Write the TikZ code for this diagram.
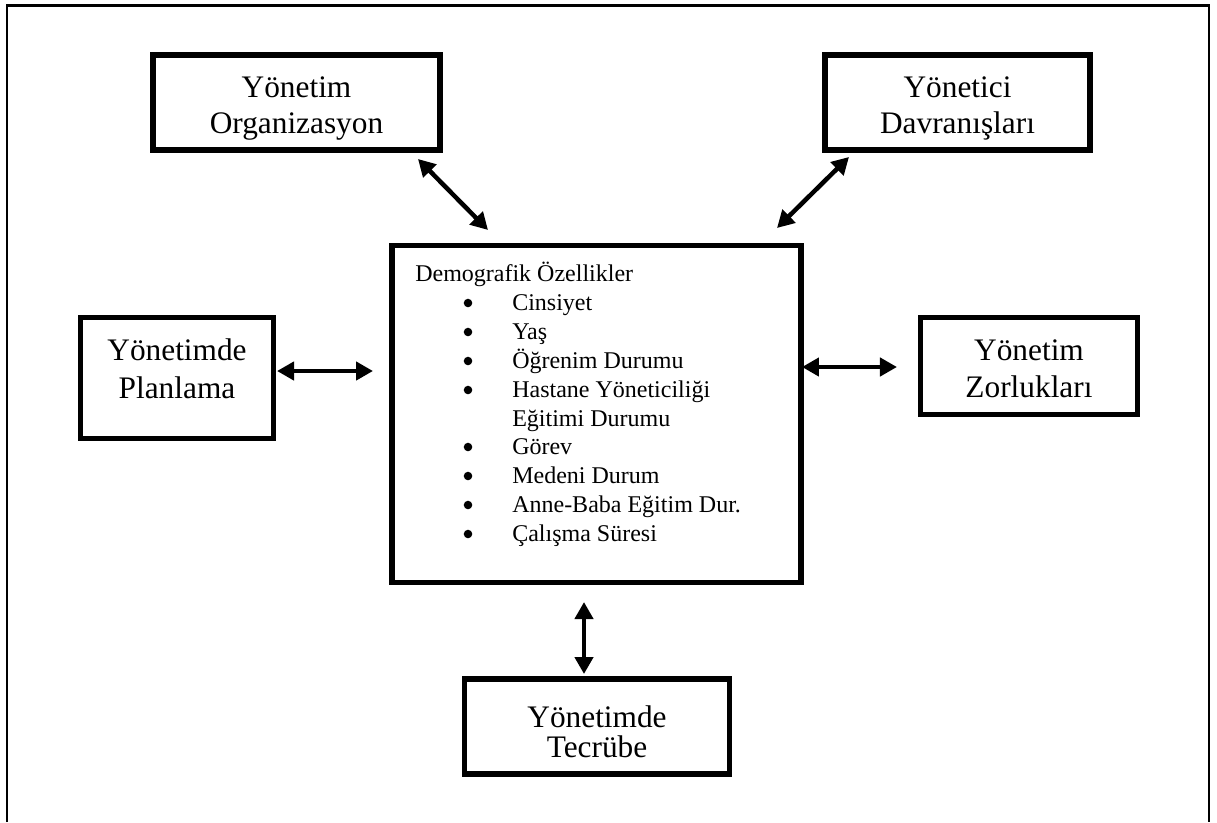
\documentclass[tikz,border=0pt]{standalone}
\usepackage{fontspec}
\setmainfont{Liberation Serif}
\usetikzlibrary{arrows.meta}
\begin{document}
\begin{tikzpicture}[x=0.75pt,y=-0.75pt,
  box/.style={draw,line width=4.125pt,inner sep=0pt,fill=white},
  lbl/.style={anchor=base,inner sep=0pt,font=\fontsize{23.5}{27}\selectfont},
  itm/.style={anchor=base west,inner sep=0pt,font=\fontsize{18}{21.6}\selectfont},
  bul/.style={circle,fill=black,inner sep=0pt,minimum size=6.4pt},
  arr/.style={line width=3.4pt,{Triangle[length=12.75pt,width=13.5pt]}-{Triangle[length=12.75pt,width=13.5pt]}}]
\useasboundingbox (0,0) rectangle (1217,822);
\fill[white] (0,0) rectangle (1217,822);
% outer frame (open at bottom)
\coordinate (f1) at (7,822);
\coordinate (f2) at (7,5.5);
\coordinate (f3) at (1209,5.5);
\coordinate (f4) at (1209,822);
\draw[line width=1.8pt] (f1) -- (f2) -- (f3) -- (f4);
% boxes
\node[box,minimum width=215.6pt,minimum height=71.6pt] (org) at (296.5,102.5) {};
\node[box,minimum width=199.1pt,minimum height=71.6pt] (dav) at (957.5,102.5) {};
\node[box,minimum width=144.4pt,minimum height=90.4pt] (plan) at (177,378) {};
\node[box,minimum width=162.4pt,minimum height=72.4pt] (zor) at (1029,366) {};
\node[box,minimum width=307.1pt,minimum height=252.4pt] (demo) at (596.5,414) {};
\node[box,minimum width=198.4pt,minimum height=71.6pt] (tec) at (597,726.5) {};
% box labels
\node[lbl] (org1) at (296.5,97) {Yönetim};
\node[lbl] (org2) at (296.5,133) {Organizasyon};
\node[lbl] (dav1) at (957.5,97) {Yönetici};
\node[lbl] (dav2) at (957.5,133) {Davranışları};
\node[lbl] (plan1) at (177,360) {Yönetimde};
\node[lbl] (plan2) at (177,398) {Planlama};
\node[lbl] (zor1) at (1029,360) {Yönetim};
\node[lbl] (zor2) at (1029,397) {Zorlukları};
\node[lbl] (tec1) at (597,727) {Yönetimde};
\node[lbl] (tec2) at (597,757) {Tecrübe};
% central list
\node[itm] (dtitle) at (415,281) {Demografik Özellikler};
\node[bul] (b1) at (468,303) {};
\node[itm] (i1) at (512,310) {Cinsiyet};
\node[bul] (b2) at (468,332) {};
\node[itm] (i2) at (512,339) {Yaş};
\node[bul] (b3) at (468,361) {};
\node[itm] (i3) at (512,368) {Öğrenim Durumu};
\node[bul] (b4) at (468,390) {};
\node[itm] (i4) at (512,397) {Hastane Yöneticiliği};
\node[itm] (i4b) at (512,426) {Eğitimi Durumu};
\node[bul] (b5) at (468,447) {};
\node[itm] (i5) at (512,454) {Görev};
\node[bul] (b6) at (468,476) {};
\node[itm] (i6) at (512,483) {Medeni Durum};
\node[bul] (b7) at (468,505) {};
\node[itm] (i7) at (512,512) {Anne-Baba Eğitim Dur.};
\node[bul] (b8) at (468,534) {};
\node[itm] (i8) at (512,541) {Çalışma Süresi};
% connectors
\draw[arr] ([shift={(121.5,6)}]org.south) -- ([shift={(-108.5,-13)}]demo.north);
\draw[arr] ([shift={(-108.5,4)}]dav.south) -- ([shift={(180.5,-15)}]demo.north);
\draw[arr] ([shift={(1,-7)}]plan.east) -- ([shift={(-16,-43)}]demo.west);
\draw[arr] ([shift={(-2,-47)}]demo.east) -- ([shift={(-21,1)}]zor.west);
\draw[arr] ([shift={(-12.5,17)}]demo.south) -- ([shift={(-13,-2)}]tec.north);
\end{tikzpicture}
\end{document}
